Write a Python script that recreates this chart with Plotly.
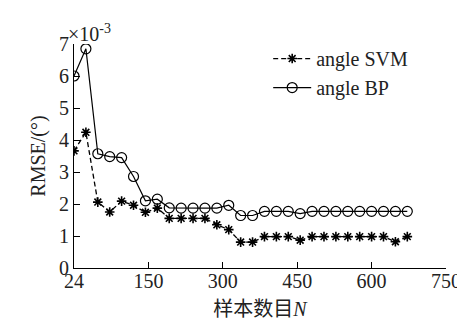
import plotly.graph_objects as go

# sample index positions (axis units) and tick labels
n_pos = [24 * k for k in range(29)]
tick_vals = [0, 150, 300, 450, 600, 750]
tick_text = ["24", "150", "300", "450", "600", "750"]
y_ticks = [0, 1, 2, 3, 4, 5, 6, 7]

# RMSE values (x 10^-3)
svm = [3.66, 4.24, 2.06, 1.75, 2.09, 1.96, 1.74, 1.87, 1.55, 1.55,
       1.55, 1.55, 1.35, 1.20, 0.81, 0.81, 0.98, 0.98, 0.98, 0.87,
       0.98, 0.98, 0.98, 0.98, 0.98, 0.98, 0.98, 0.82, 0.98]
bp = [6.00, 6.85, 3.57, 3.48, 3.45, 2.86, 2.10, 2.15, 1.88, 1.87,
      1.87, 1.87, 1.87, 1.96, 1.64, 1.64, 1.77, 1.77, 1.77, 1.70,
      1.77, 1.77, 1.77, 1.77, 1.77, 1.77, 1.77, 1.77, 1.77]

FONT = "Liberation Serif, Times New Roman, Noto Sans CJK SC, serif"

fig = go.Figure()
fig.add_trace(go.Scatter(
    x=n_pos, y=svm, name="angle SVM", mode="lines+markers",
    line=dict(color="black", width=1.3, dash="5px,3px"),
    marker=dict(symbol="asterisk-open", size=8, color="black",
                line=dict(color="black", width=1.6)),
))
fig.add_trace(go.Scatter(
    x=n_pos, y=bp, name="angle BP", mode="lines+markers",
    line=dict(color="black", width=1.2),
    marker=dict(symbol="circle-open", size=10, color="black",
                line=dict(color="black", width=1.2)),
))

fig.update_layout(
    width=465, height=320,
    margin=dict(l=65.5, r=21.7, t=36.2, b=57.7),
    paper_bgcolor="white", plot_bgcolor="white",
    font=dict(family=FONT, size=20, color="#222"),
    showlegend=True,
    legend=dict(x=0.522, y=1.022, xanchor="left", yanchor="top",
                bgcolor="rgba(0,0,0,0)", font=dict(size=20, family=FONT),
                itemwidth=38),
    xaxis=dict(range=[0, 750], tickvals=tick_vals, ticktext=tick_text,
               showline=True, linecolor="black", linewidth=1,
               ticks="inside", ticklen=6, tickcolor="black",
               showgrid=False, zeroline=False, mirror=False,
               ticklabelstandoff=-5,
               tickfont=dict(size=20, family=FONT),
               title=dict(text="样本数目<i>N</i>", font=dict(size=20, family=FONT),
                          standoff=10)),
    yaxis=dict(range=[0, 7], tickvals=y_ticks,
               showline=True, linecolor="black", linewidth=1,
               ticks="inside", ticklen=6, tickcolor="black",
               showgrid=False, zeroline=False, mirror=False,
               tickfont=dict(size=20, family=FONT),
               title=dict(text="RMSE/(°)", font=dict(size=20, family=FONT),
                          standoff=8)),
)
fig.add_annotation(
    xref="paper", yref="paper", x=-0.022, y=1.0, xanchor="left", yanchor="bottom",
    yshift=-3, showarrow=False,
    text="×10<sup>-3</sup>", font=dict(size=20, family=FONT, color="#222"),
)

fig.write_html("out.html")
